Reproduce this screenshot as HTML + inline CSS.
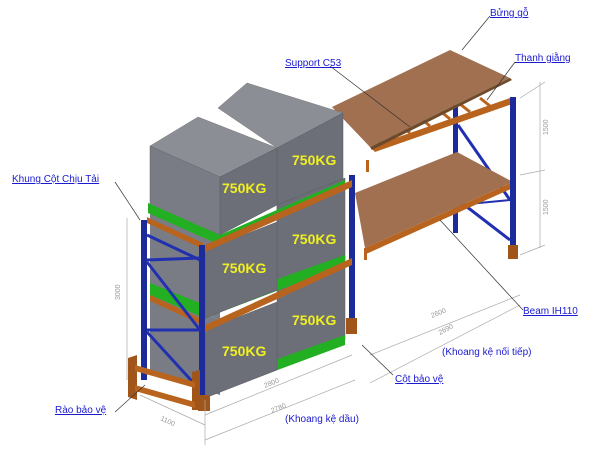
<!DOCTYPE html>
<html><head><meta charset="utf-8"><style>
html,body{margin:0;padding:0;background:#fff;}
svg{display:block;}
text{font-family:"Liberation Sans",sans-serif;}
.lb{fill:#1a1ad0;font-size:10px;text-decoration:underline;}
.kg{fill:#f0f020;font-size:14px;font-weight:bold;}
.dm{fill:#999;font-size:7px;}
</style></head><body>
<svg width="600" height="450" viewBox="0 0 600 450" xmlns="http://www.w3.org/2000/svg">
<!-- RIGHT RACK -->
<g>
<rect x="453" y="105" width="5" height="128" fill="#1c2a9a"/>
<line x1="458" y1="125" x2="510" y2="200" stroke="#2030b0" stroke-width="3"/>
<line x1="458" y1="200" x2="510" y2="240" stroke="#2030b0" stroke-width="3"/>
<line x1="458" y1="205" x2="510" y2="200" stroke="#2030b0" stroke-width="2"/>
<polygon points="370,147 375,152 515,103 510,98" fill="#b8641e"/>
<g stroke="#b8641e" stroke-width="3">
<line x1="380" y1="143" x2="370" y2="135"/><line x1="395" y1="138" x2="385" y2="130"/>
<line x1="410" y1="133" x2="400" y2="125"/><line x1="430" y1="126" x2="420" y2="118"/>
<line x1="450" y1="119" x2="440" y2="111"/><line x1="470" y1="112" x2="460" y2="104"/>
<line x1="490" y1="106" x2="480" y2="98"/>
</g>
<polygon points="332,107 450,50 510,78 370,147" fill="#a07050"/>
<polygon points="370,147 510,78 512,80 372,150" fill="#6e4a2c"/>
<polygon points="355,193 457,152 513,182 365,248" fill="#a07050"/>
<polygon points="365,248 513,182 513,188 366,254" fill="#b8641e"/>
<rect x="364" y="248" width="3" height="12" fill="#b8641e"/>
<rect x="510" y="97" width="6" height="160" fill="#1c2a9a"/>
<rect x="508" y="245" width="10" height="14" fill="#a0561a"/>
<rect x="366" y="160" width="3" height="12" fill="#b8641e"/>
</g>
<!-- LEFT RACK -->
<g stroke-linejoin="round">
<rect x="349" y="175" width="6" height="150" fill="#1c2a9a"/>
<rect x="346" y="318" width="11" height="16" fill="#a0561a"/>
<!-- back top box -->
<polygon points="218,108 247,83 343,113 277,148" fill="#8c8e96" stroke="#777" stroke-width="0.5"/>
<polygon points="277,148 343,113 343,195 277,228" fill="#6d6f78" stroke="#5a5c64" stroke-width="0.5"/>
<polygon points="277,205 345,178 345,260 277,290" fill="#6d6f78" stroke="#5a5c64" stroke-width="0.5"/>
<polygon points="277,280 345,255 345,340 277,365" fill="#6d6f78" stroke="#5a5c64" stroke-width="0.5"/>
<polygon points="150,205 220,235 220,320 150,290" fill="#7a7c85"/>
<polygon points="150,290 220,320 220,395 150,370" fill="#7a7c85"/>
<!-- top front box -->
<polygon points="150,146 198,117 277,148 220,177" fill="#8c8e96" stroke="#777" stroke-width="0.5"/>
<polygon points="150,146 220,177 220,235 150,205" fill="#7a7c85" stroke="#666" stroke-width="0.5"/>
<polygon points="220,177 277,148 277,205 220,235" fill="#6d6f78" stroke="#5a5c64" stroke-width="0.5"/>
<polygon points="148,203 220,235 345,180 345,190 220,245 148,213" fill="#22b022"/>
<polygon points="205,305 345,255 345,265 205,318" fill="#22b022"/>
<polygon points="205,385 345,335 345,345 205,397" fill="#22b022"/>
<polygon points="150,283 205,305 205,318 150,295" fill="#22b022"/>
<polygon points="205,250 277,222 277,290 205,318" fill="#6d6f78" stroke="#5a5c64" stroke-width="0.5"/>
<polygon points="205,330 277,302 277,370 205,398" fill="#6d6f78" stroke="#5a5c64" stroke-width="0.5"/>
<polygon points="205,245 352,180 352,187 205,252" fill="#b8641e"/>
<polygon points="205,325 352,258 352,265 205,332" fill="#b8641e"/>
<polygon points="147,217 203,243 203,249 147,223" fill="#b8641e"/>
<polygon points="150,295 200,318 200,324 150,301" fill="#b8641e"/>
<rect x="141" y="220" width="6" height="160" fill="#1c2a9a"/>
<rect x="199" y="245" width="6" height="155" fill="#1c2a9a"/>
<g stroke="#2030b0" stroke-width="3">
<line x1="147" y1="235" x2="200" y2="260"/><line x1="147" y1="260" x2="200" y2="258"/>
<line x1="147" y1="262" x2="200" y2="330"/><line x1="147" y1="330" x2="200" y2="330"/>
<line x1="147" y1="332" x2="200" y2="390"/>
</g>
<polygon points="128,358 137,355 137,400 128,397" fill="#a0561a"/>
<polygon points="192,372 200,370 200,410 192,410" fill="#a0561a"/>
<polygon points="135,365 195,382 195,388 135,371" fill="#b8641e"/>
<polygon points="135,385 195,402 195,408 135,391" fill="#b8641e"/>
<rect x="198" y="395" width="12" height="16" fill="#a0561a"/>
<text x="292" y="165" class="kg">750KG</text>
<text x="222" y="193" class="kg">750KG</text>
<text x="292" y="244" class="kg">750KG</text>
<text x="222" y="273" class="kg">750KG</text>
<text x="292" y="325" class="kg">750KG</text>
<text x="222" y="356" class="kg">750KG</text>
</g>
<g stroke="#aaa" stroke-width="0.7" fill="none">
<line x1="127" y1="218" x2="127" y2="380"/>
<line x1="140" y1="395" x2="205" y2="425"/>
<line x1="205" y1="415" x2="352" y2="355"/>
<line x1="205" y1="440" x2="355" y2="380"/>
<line x1="205" y1="400" x2="205" y2="445"/>
<line x1="370" y1="355" x2="520" y2="295"/>
<line x1="370" y1="383" x2="520" y2="305"/>
<line x1="540" y1="82" x2="540" y2="248"/>
<line x1="520" y1="98" x2="545" y2="82"/>
<line x1="520" y1="175" x2="545" y2="170"/>
<line x1="520" y1="255" x2="545" y2="245"/>
</g>
<text class="dm" transform="translate(120,300) rotate(-90)">3000</text>
<text class="dm" transform="translate(548,135) rotate(-90)">1500</text>
<text class="dm" transform="translate(548,215) rotate(-90)">1500</text>
<text class="dm" transform="translate(265,388) rotate(-22)">2800</text>
<text class="dm" transform="translate(272,413) rotate(-22)">2780</text>
<text class="dm" transform="translate(160,420) rotate(25)">1100</text>
<text class="dm" transform="translate(432,318) rotate(-22)">2600</text>
<text class="dm" transform="translate(440,335) rotate(-28)">2690</text>
<g stroke="#333" stroke-width="0.7">
<line x1="490" y1="16" x2="462" y2="50"/>
<line x1="330" y1="66" x2="410" y2="127"/>
<line x1="515" y1="62" x2="487" y2="100"/>
<line x1="115" y1="182" x2="140" y2="220"/>
<line x1="523" y1="310" x2="440" y2="220"/>
<line x1="393" y1="375" x2="362" y2="345"/>
<line x1="115" y1="412" x2="145" y2="385"/>
</g>
<text x="490" y="16" class="lb">Bửng gỗ</text>
<text x="285" y="66" class="lb">Support C53</text>
<text x="515" y="61" class="lb">Thanh giằng</text>
<text x="12" y="182" class="lb">Khung Cột Chịu Tải</text>
<text x="523" y="314" class="lb">Beam IH110</text>
<text x="442" y="355" style="fill:#1a1ad0;font-size:10px">(Khoang kệ nối tiếp)</text>
<text x="395" y="382" class="lb">Cột bảo vệ</text>
<text x="55" y="413" class="lb">Rào bảo vệ</text>
<text x="285" y="422" style="fill:#1a1ad0;font-size:10px">(Khoang kệ dầu)</text>
</svg>
</body></html>
